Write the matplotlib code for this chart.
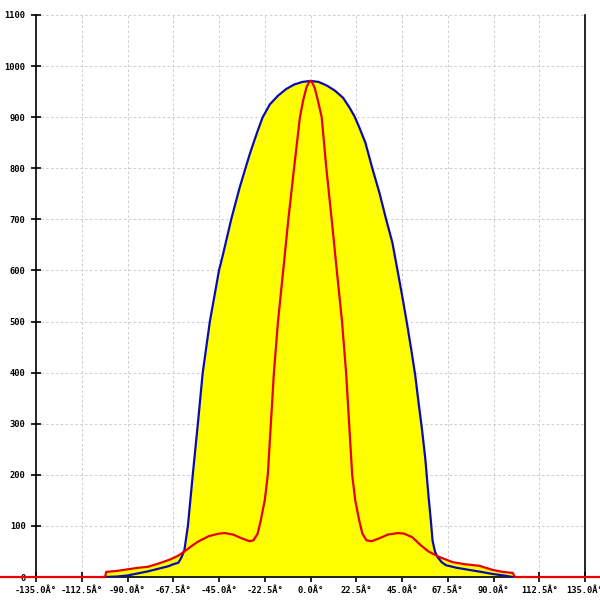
import matplotlib
matplotlib.use("Agg")
import matplotlib.pyplot as plt

# Blue curve (C0-C180 plane)
blue_deg = [-101, -95, -90, -85, -80, -75, -70, -67.5, -65, -63.5, -62, -60.3,
            -57.9, -55.4, -53, -49.5, -45, -43, -41, -39, -37, -35, -32, -30,
            -28, -26, -23.5, -20, -16, -12, -8, -4, 0, 4, 8, 12, 16, 19, 21.6,
            24, 27, 30.4, 33.9, 37.2, 40.3, 42.8, 45.2, 47.5, 49.6, 51.5, 53,
            54.8, 56.5, 58, 59.2, 60, 61.2, 62.5, 64.5, 66.7, 72, 78, 84, 89.5,
            95, 99.5]
blue_val = [0, 1, 3, 7, 11, 16, 21, 25, 28, 38, 53, 100,
            200, 300, 400, 500, 600, 632, 666, 700, 730, 760, 800, 826,
            850, 873, 900, 925, 942, 955, 964, 969, 971, 969, 962, 952, 938, 920, 902,
            880, 850, 800, 752, 700, 654, 600, 548, 495, 444, 395, 346,
            290, 230, 160, 110, 72, 50, 39, 29, 23, 18, 14, 10, 6,
            3, 0]

# Red curve (C90-C270 plane)
red_deg = [-160, -101, -100.5, -95, -90, -85, -80, -75, -70, -67.5, -65, -62,
           -58, -55, -50, -45, -42, -38, -34, -30, -28, -26, -24.5, -22.5, -21,
           -19.5, -18, -16, -13.4, -10.9, -8.1, -5.2, -3.5, -2, -0.8, 0, 0.8, 2,
           3.5, 5.5, 7.8, 10.4, 12.9, 15.5, 17.5, 19, 20.5, 22, 24, 25.5, 27.5,
           30, 34, 38, 43, 46, 50, 54, 58, 63.5, 70, 76, 83, 89.5, 94.5, 99.5,
           100.5, 160]
red_val = [0, 0, 10, 12, 15, 18, 20, 26, 33, 37, 42, 50,
           62, 70, 80, 85, 86, 83, 76, 70, 72, 85, 110, 150, 200,
           300, 400, 500, 601, 700, 800, 900, 935, 958, 968, 971, 968, 958,
           935, 900, 800, 700, 601, 500, 400, 300, 200, 150, 110, 85, 72,
           70, 76, 83, 86, 85, 78, 63, 50, 39, 29, 25, 22, 14, 10, 8,
           0, 0]

x_ticks = [-135, -112.5, -90, -67.5, -45, -22.5, 0, 22.5, 45, 67.5, 90, 112.5, 135]
x_labels = ["%.1fÂ°" % t for t in x_ticks]
y_ticks = list(range(0, 1101, 100))

fig = plt.figure(figsize=(6, 6), dpi=100)
ax = fig.add_axes([0.06, 0.0383, 0.915, 0.9367])

ax.fill_between(blue_deg, 0, blue_val, color="#ffff00", lw=0, zorder=1)
ax.fill_between(red_deg, 0, red_val, color="#ffff00", lw=0, zorder=1)
ax.plot(blue_deg, blue_val, color="#0a0ab4", lw=1.6, zorder=3)
ax.plot(red_deg, red_val, color="#e60000", lw=1.6, zorder=4, clip_on=False)

ax.set_xlim(-135, 135)
ax.set_ylim(0, 1100)
ax.set_xticks(x_ticks)
ax.set_xticklabels(x_labels)
ax.set_yticks(y_ticks)
ax.set_yticklabels([str(v) for v in y_ticks])

ax.spines["top"].set_visible(False)
for s in ["left", "right", "bottom"]:
    ax.spines[s].set_color("black")
    ax.spines[s].set_linewidth(1.2)

ax.tick_params(axis="both", direction="inout", length=7, width=1.2,
               labelsize=6.3, pad=3)
ax.tick_params(axis="y", pad=4)
for lab in ax.get_xticklabels() + ax.get_yticklabels():
    lab.set_family("DejaVu Sans Mono")
    lab.set_fontweight("bold")

ax.grid(True, color="#cccccc", linestyle=(0, (2.5, 2.5)), linewidth=0.7, zorder=0)
ax.set_axisbelow(True)

fig.savefig("out.png", dpi=100)
